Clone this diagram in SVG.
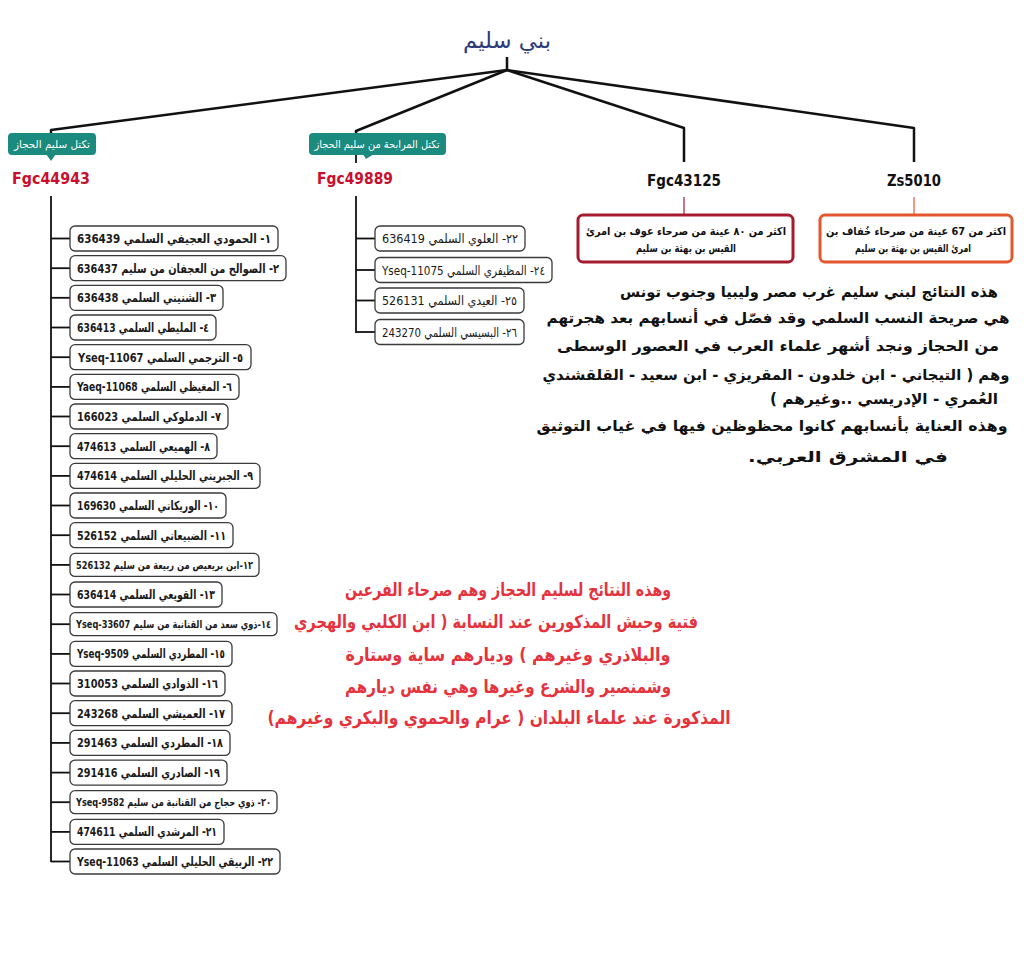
<svg xmlns="http://www.w3.org/2000/svg" width="1024" height="970" viewBox="0 0 1024 970">
<style>
.ar{font-family:"DejaVu Sans",sans-serif;direction:rtl;}
.box{fill:#fff;stroke:#3a3a3a;stroke-width:1.3;}
.bt{font-family:"DejaVu Sans",sans-serif;font-weight:bold;font-size:12.5px;fill:#1a1a1a;direction:rtl;text-anchor:middle;}
.bts{font-family:"DejaVu Sans",sans-serif;font-weight:bold;font-size:11px;fill:#1a1a1a;direction:rtl;text-anchor:middle;}
.mt{font-family:"DejaVu Sans",sans-serif;font-size:12.5px;fill:#1a1a1a;direction:rtl;text-anchor:middle;}
.ln{stroke:#111;stroke-width:2.5;fill:none;stroke-linejoin:round;}
.st{stroke:#111;stroke-width:1.8;fill:none;}
.tag{fill:#1b8a7f;}
.tagt{font-family:"DejaVu Sans",sans-serif;font-size:10.5px;fill:#fff;direction:rtl;text-anchor:middle;}
.hg{font-family:"DejaVu Sans",sans-serif;font-weight:bold;font-size:16px;text-anchor:middle;}
.para{font-family:"DejaVu Sans",sans-serif;font-weight:bold;font-size:15px;fill:#111;direction:rtl;text-anchor:middle;}
.red{font-family:"DejaVu Sans",sans-serif;font-weight:bold;font-size:18px;fill:#e5323c;direction:rtl;text-anchor:middle;}
.nt{font-family:"DejaVu Sans",sans-serif;font-weight:bold;font-size:11px;fill:#111;direction:rtl;text-anchor:middle;}
</style>

<g id="title">
<text x="507" y="48" class="ar" font-size="22" fill="#2e3a7a" text-anchor="middle" textLength="88" lengthAdjust="spacingAndGlyphs">بني سليم</text>
</g>

<g id="connectors">
<line class="ln" x1="507" y1="57" x2="507" y2="70"/>
<polyline class="ln" points="51,133 51,130 507,70"/>
<polyline class="ln" points="356,133 356,131 507,70"/>
<polyline class="ln" points="684,162 684,128 507,70"/>
<polyline class="ln" points="914,162 914,128 507,70"/>
<line x1="356" y1="155" x2="356" y2="163" class="st" stroke-width="2.5"/>
<line x1="684" y1="197" x2="684" y2="215" stroke="#a51c30" stroke-width="1.2"/>
<line x1="914" y1="197" x2="914" y2="215" stroke="#e4572e" stroke-width="1.2"/>
<line class="st" x1="51" y1="196" x2="51" y2="862"/>
<line class="st" x1="356" y1="196" x2="356" y2="333"/>
<line class="st" x1="51" y1="238.5" x2="70" y2="238.5"/>
<line class="st" x1="51" y1="268.2" x2="70" y2="268.2"/>
<line class="st" x1="51" y1="297.8" x2="70" y2="297.8"/>
<line class="st" x1="51" y1="327.5" x2="70" y2="327.5"/>
<line class="st" x1="51" y1="357.2" x2="70" y2="357.2"/>
<line class="st" x1="51" y1="386.9" x2="70" y2="386.9"/>
<line class="st" x1="51" y1="416.5" x2="70" y2="416.5"/>
<line class="st" x1="51" y1="446.2" x2="70" y2="446.2"/>
<line class="st" x1="51" y1="475.9" x2="70" y2="475.9"/>
<line class="st" x1="51" y1="505.5" x2="70" y2="505.5"/>
<line class="st" x1="51" y1="535.2" x2="70" y2="535.2"/>
<line class="st" x1="51" y1="564.9" x2="70" y2="564.9"/>
<line class="st" x1="51" y1="594.5" x2="70" y2="594.5"/>
<line class="st" x1="51" y1="624.2" x2="70" y2="624.2"/>
<line class="st" x1="51" y1="653.9" x2="70" y2="653.9"/>
<line class="st" x1="51" y1="683.5" x2="70" y2="683.5"/>
<line class="st" x1="51" y1="713.2" x2="70" y2="713.2"/>
<line class="st" x1="51" y1="742.9" x2="70" y2="742.9"/>
<line class="st" x1="51" y1="772.6" x2="70" y2="772.6"/>
<line class="st" x1="51" y1="802.2" x2="70" y2="802.2"/>
<line class="st" x1="51" y1="831.9" x2="70" y2="831.9"/>
<line class="st" x1="51" y1="861.5" x2="70" y2="861.5"/>
<line class="st" x1="356" y1="238.5" x2="375" y2="238.5"/>
<line class="st" x1="356" y1="270" x2="375" y2="270"/>
<line class="st" x1="356" y1="300.5" x2="375" y2="300.5"/>
<line class="st" x1="356" y1="332" x2="375" y2="332"/>
</g>

<g id="tag-left">
<rect class="tag" x="8" y="133" width="88" height="22" rx="4"/>
<polygon class="tag" points="46,154 56,154 51,161"/>
<text class="tagt" x="52" y="148" textLength="76" lengthAdjust="spacingAndGlyphs">تكتل سليم الحجاز</text>
</g>
<g id="tag-mid">
<rect class="tag" x="309" y="133" width="137" height="22" rx="4"/>
<polygon class="tag" points="363,154 374,154 366,159"/>
<text class="tagt" x="377" y="148" textLength="125" lengthAdjust="spacingAndGlyphs">تكتل المرابحة من سليم الحجاز</text>
</g>

<g id="hg-Fgc44943"><text class="hg" x="51" y="184" fill="#c8102e" textLength="78" lengthAdjust="spacingAndGlyphs">Fgc44943</text></g>
<g id="hg-Fgc49889"><text class="hg" x="355" y="184" fill="#c8102e" textLength="76" lengthAdjust="spacingAndGlyphs">Fgc49889</text></g>
<g id="hg-Fgc43125"><text class="hg" x="684" y="186" fill="#111" textLength="74" lengthAdjust="spacingAndGlyphs">Fgc43125</text></g>
<g id="hg-Zs5010"><text class="hg" x="914" y="186" fill="#111" textLength="54" lengthAdjust="spacingAndGlyphs">Zs5010</text></g>

<g id="note-Fgc43125">
<rect x="578" y="215" width="215" height="47" rx="5" fill="#fff" stroke="#a51c30" stroke-width="3"/>
<text class="nt" x="686" y="235" textLength="200" lengthAdjust="spacingAndGlyphs">اكثر من ٨٠ عينة من صرحاء عوف بن امرئ</text>
<text class="nt" x="686" y="252" textLength="100" lengthAdjust="spacingAndGlyphs">القيس بن بهثة بن سليم</text>
</g>
<g id="note-Zs5010">
<rect x="820" y="215" width="192" height="47" rx="5" fill="#fff" stroke="#e4572e" stroke-width="3"/>
<text class="nt" x="916" y="235" textLength="180" lengthAdjust="spacingAndGlyphs">اكثر من 67 عينة من صرحاء خُفاف بن</text>
<text class="nt" x="913" y="252" textLength="116" lengthAdjust="spacingAndGlyphs">امرئ القيس بن بهثة بن سليم</text>
</g>

<g id="n1"><rect class="box" x="70" y="226" width="208" height="25" rx="5"/><text class="bt" x="174" y="243" textLength="194" lengthAdjust="spacingAndGlyphs">١- الحمودي العجيفي السلمي 636439</text></g>
<g id="n2"><rect class="box" x="70" y="255.7" width="216" height="25" rx="5"/><text class="bt" x="178" y="272.7" textLength="202" lengthAdjust="spacingAndGlyphs">٢- الصوالح من العجفان من سليم 636437</text></g>
<g id="n3"><rect class="box" x="70" y="285.3" width="153" height="25" rx="5"/><text class="bt" x="146.5" y="302.3" textLength="139" lengthAdjust="spacingAndGlyphs">٣- الشنيني السلمي 636438</text></g>
<g id="n4"><rect class="box" x="70" y="315" width="146" height="25" rx="5"/><text class="bt" x="143" y="332" textLength="132" lengthAdjust="spacingAndGlyphs">٤- المليطي السلمي 636413</text></g>
<g id="n5"><rect class="box" x="70" y="344.7" width="181" height="25" rx="5"/><text class="bt" x="160.5" y="361.7" textLength="165" lengthAdjust="spacingAndGlyphs">٥- الترجمي السلمي Yseq-11067</text></g>
<g id="n6"><rect class="box" x="70" y="374.4" width="169" height="25" rx="5"/><text class="bt" x="154.5" y="391.4" textLength="155" lengthAdjust="spacingAndGlyphs">٦- المغيظي السلمي Yaeq-11068</text></g>
<g id="n7"><rect class="box" x="70" y="404" width="158" height="25" rx="5"/><text class="bt" x="149" y="421" textLength="144" lengthAdjust="spacingAndGlyphs">٧- الدملوكي السلمي 166023</text></g>
<g id="n8"><rect class="box" x="70" y="433.7" width="147" height="25" rx="5"/><text class="bt" x="143.5" y="450.7" textLength="133" lengthAdjust="spacingAndGlyphs">٨- الهميعي السلمي 474613</text></g>
<g id="n9"><rect class="box" x="70" y="463.4" width="190" height="25" rx="5"/><text class="bt" x="165" y="480.4" textLength="176" lengthAdjust="spacingAndGlyphs">٩- الجبريني الحليلي السلمي 474614</text></g>
<g id="n10"><rect class="box" x="70" y="493" width="156" height="25" rx="5"/><text class="bt" x="148" y="510" textLength="142" lengthAdjust="spacingAndGlyphs">١٠- الوريكاني السلمي 169630</text></g>
<g id="n11"><rect class="box" x="70" y="522.7" width="163" height="25" rx="5"/><text class="bt" x="151.5" y="539.7" textLength="149" lengthAdjust="spacingAndGlyphs">١١- الضبيعاني السلمي 526152</text></g>
<g id="n12"><rect class="box" x="70" y="553.4" width="189" height="23" rx="5"/><text class="bts" x="164.5" y="569" textLength="177" lengthAdjust="spacingAndGlyphs">١٢-ابن بريعيص من ربيعة من سليم 526132</text></g>
<g id="n13"><rect class="box" x="70" y="582" width="152" height="25" rx="5"/><text class="bt" x="146" y="599" textLength="138" lengthAdjust="spacingAndGlyphs">١٣- القويعي السلمي 636414</text></g>
<g id="n14"><rect class="box" x="70" y="612.7" width="207" height="23" rx="5"/><text class="bts" x="173.5" y="628.3" textLength="195" lengthAdjust="spacingAndGlyphs">١٤-ذوي سعد من القنانبة من سليم Yseq-33607</text></g>
<g id="n15"><rect class="box" x="70" y="641.4" width="162" height="25" rx="5"/><text class="bt" x="151" y="658.4" textLength="148" lengthAdjust="spacingAndGlyphs">١٥- المطردي السلمي Yseq-9509</text></g>
<g id="n16"><rect class="box" x="70" y="671" width="155" height="25" rx="5"/><text class="bt" x="147.5" y="688" textLength="141" lengthAdjust="spacingAndGlyphs">١٦- الذوادي السلمي 310053</text></g>
<g id="n17"><rect class="box" x="70" y="700.7" width="162" height="25" rx="5"/><text class="bt" x="151" y="717.7" textLength="148" lengthAdjust="spacingAndGlyphs">١٧- العميشي السلمي 243268</text></g>
<g id="n18"><rect class="box" x="70" y="730.4" width="160" height="25" rx="5"/><text class="bt" x="150" y="747.4" textLength="146" lengthAdjust="spacingAndGlyphs">١٨- المطردي السلمي 291463</text></g>
<g id="n19"><rect class="box" x="70" y="760.1" width="157" height="25" rx="5"/><text class="bt" x="148.5" y="777.1" textLength="143" lengthAdjust="spacingAndGlyphs">١٩- الصادري السلمي 291416</text></g>
<g id="n20"><rect class="box" x="70" y="790.7" width="207" height="23" rx="5"/><text class="bts" x="173.5" y="806.3" textLength="195" lengthAdjust="spacingAndGlyphs">٢٠- ذوي حجاج من القنانبة من سليم Yseq-9582</text></g>
<g id="n21"><rect class="box" x="70" y="819.4" width="154" height="25" rx="5"/><text class="bt" x="147" y="836.4" textLength="140" lengthAdjust="spacingAndGlyphs">٢١- المرشدي السلمي 474611</text></g>
<g id="n22"><rect class="box" x="70" y="849" width="210" height="25" rx="5"/><text class="bt" x="175" y="866" textLength="196" lengthAdjust="spacingAndGlyphs">٢٢- الربيقي الحليلي السلمي Yseq-11063</text></g>

<g id="m22"><rect class="box" x="375" y="226" width="150" height="25" rx="5"/><text class="mt" x="450" y="243" textLength="136" lengthAdjust="spacingAndGlyphs">٢٢- العلوي السلمي 636419</text></g>
<g id="m24"><rect class="box" x="375" y="257.5" width="177" height="25" rx="5"/><text class="mt" x="463.5" y="274.5" textLength="163" lengthAdjust="spacingAndGlyphs">٢٤- المظيفري السلمي Yseq-11075</text></g>
<g id="m25"><rect class="box" x="375" y="288" width="149" height="25" rx="5"/><text class="mt" x="449.5" y="305" textLength="135" lengthAdjust="spacingAndGlyphs">٢٥- العيدي السلمي 526131</text></g>
<g id="m26"><rect class="box" x="375" y="319.5" width="149" height="25" rx="5"/><text class="mt" x="449.5" y="336.5" textLength="135" lengthAdjust="spacingAndGlyphs">٢٦- البسيسي السلمي 243270</text></g>

<g id="para-black">
<text class="para" x="809" y="297" textLength="378" lengthAdjust="spacingAndGlyphs">هذه النتائج لبني سليم غرب مصر وليبيا وجنوب تونس</text>
<text class="para" x="778" y="323" textLength="463" lengthAdjust="spacingAndGlyphs">هي صريحة النسب السلمي وقد فصّل في أنسابهم بعد هجرتهم</text>
<text class="para" x="778" y="351" textLength="442" lengthAdjust="spacingAndGlyphs">من الحجاز ونجد أشهر علماء العرب في العصور الوسطى</text>
<text class="para" x="776" y="380" font-size="14.5" textLength="467" lengthAdjust="spacingAndGlyphs">وهم ( التيجاني - ابن خلدون - المقريزي - ابن سعيد - القلقشندي</text>
<text class="para" x="884" y="404" textLength="228" lengthAdjust="spacingAndGlyphs">العُمري - الإدريسي ..وغيرهم )</text>
<text class="para" x="772" y="431" textLength="471" lengthAdjust="spacingAndGlyphs">وهذه العناية بأنسابهم كانوا محظوظين فيها في غياب التوثيق</text>
<text class="para" x="848" y="462" font-size="17" textLength="200" lengthAdjust="spacingAndGlyphs">في المشرق العربي.</text>
</g>

<g id="para-red">
<text class="red" x="508" y="596" textLength="326" lengthAdjust="spacingAndGlyphs">وهذه النتائج لسليم الحجاز وهم صرحاء الفرعين</text>
<text class="red" x="496" y="628" textLength="404" lengthAdjust="spacingAndGlyphs">فتية وحبش المذكورين عند النسابة ( ابن الكلبي والهجري</text>
<text class="red" x="508" y="661" textLength="325" lengthAdjust="spacingAndGlyphs">والبلاذري وغيرهم ) وديارهم ساية وستارة</text>
<text class="red" x="508" y="693" textLength="326" lengthAdjust="spacingAndGlyphs">وشمنصير والشرع وغيرها وهي نفس ديارهم</text>
<text class="red" x="499" y="724" textLength="463" lengthAdjust="spacingAndGlyphs">المذكورة عند علماء البلدان ( عرام والحموي والبكري وغيرهم)</text>
</g>
</svg>
